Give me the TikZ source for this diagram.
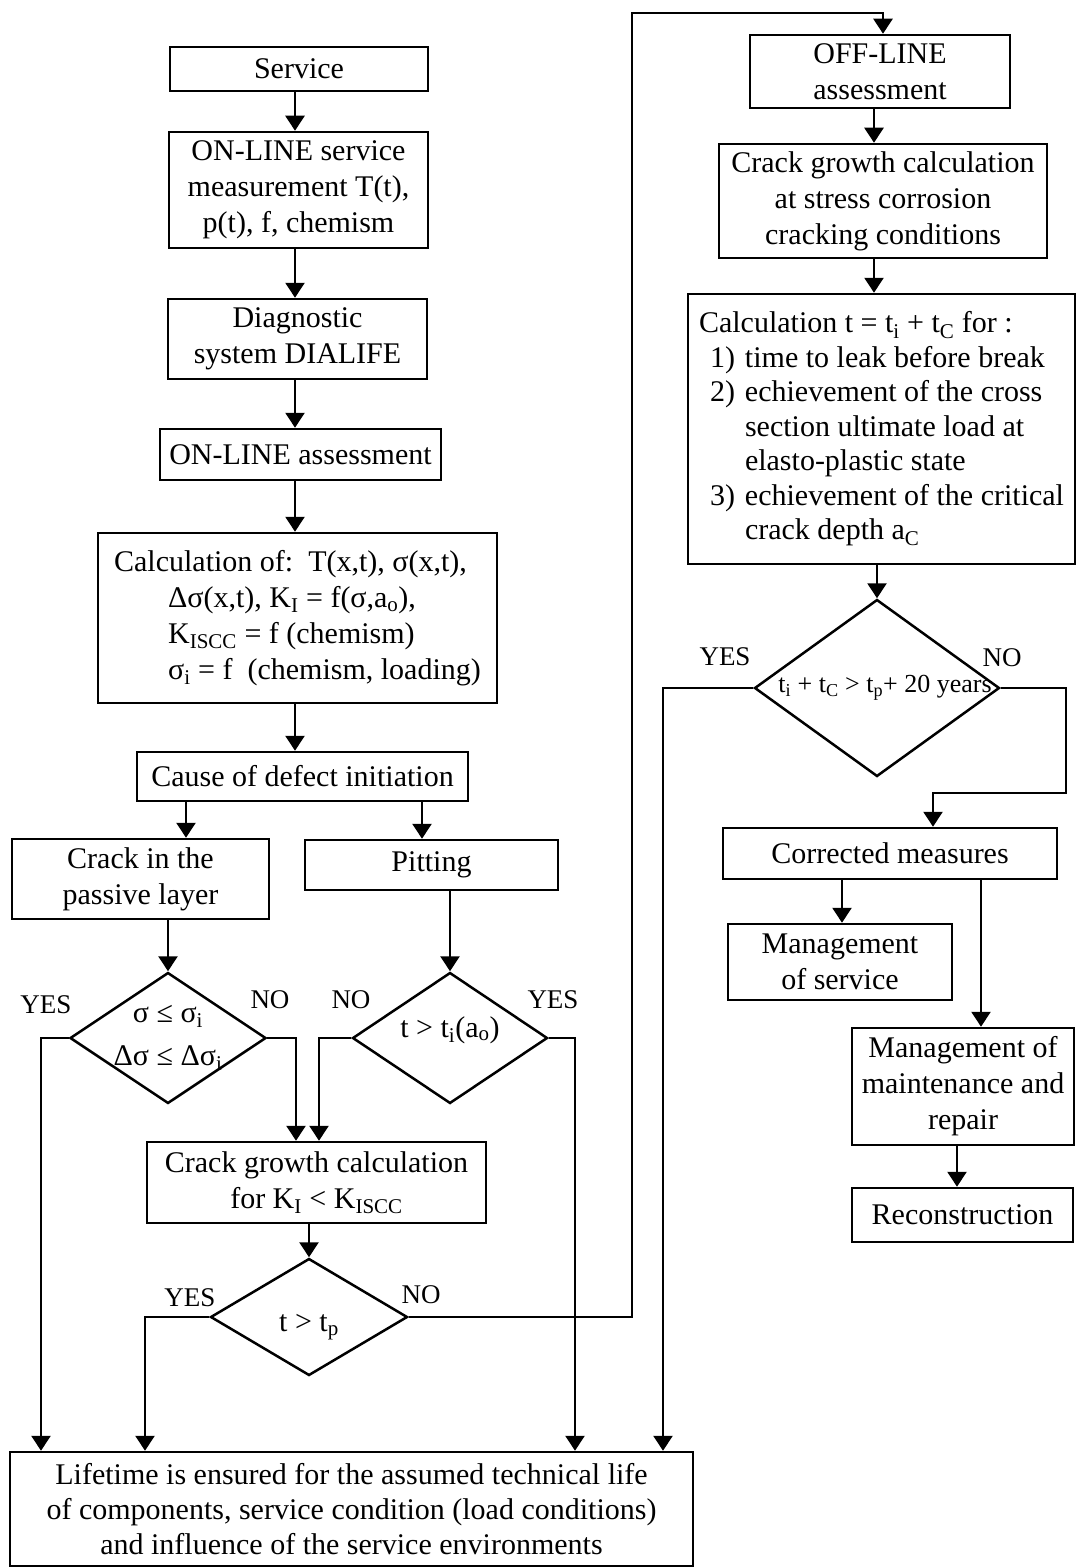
\documentclass[tikz,border=0pt]{standalone}
\usepackage{fontspec}
\setmainfont{Liberation Serif}
\usetikzlibrary{shapes.geometric,arrows.meta}
\begin{document}
\begin{tikzpicture}[x=1pt,y=-1pt,
  font=\fontsize{30}{36}\selectfont,
  box/.style={draw,line width=2.5pt,inner sep=0pt,align=center},
  dia/.style={draw,diamond,line width=2.5pt,inner sep=0pt},
  arr/.style={draw,line width=2.5pt,-{Triangle[width=19pt,length=15pt]}},
  lbl/.style={inner sep=0pt,font=\fontsize{27}{30}\selectfont}]
\useasboundingbox (0,0) rectangle (1078,1568);
% left column
\node[box,minimum width=258pt,minimum height=44pt] (svc) at (299,69) {Service};
\node[box,minimum width=259pt,minimum height=116pt] (onm) at (298.5,190) {ON-LINE service\\measurement T(t),\\p(t), f, chemism};
\node[box,minimum width=259pt,minimum height=80pt] (diag) at (297.5,339) {Diagnostic\\system DIALIFE};
\node[box,minimum width=281pt,minimum height=51pt] (ona) at (300.5,454.5) {ON-LINE assessment};
\node[box,minimum width=399pt,minimum height=170pt,align=left] (calc) at (297.5,618) {Calculation of:\ \ T(x,t), σ(x,t),\\
\hspace*{54pt}Δσ(x,t), K\textsubscript{I} = f(σ,a\textsubscript{o}),\\
\hspace*{54pt}K\textsubscript{ISCC} = f (chemism)\\
\hspace*{54pt}σ\textsubscript{i} = f\ \ (chemism, loading)};
\node[box,minimum width=331pt,minimum height=49pt] (cause) at (302.5,776.5) {Cause of defect initiation};
\node[box,minimum width=257pt,minimum height=80pt] (cp) at (140.5,879) {Crack in the\\passive layer};
\node[box,minimum width=253pt,minimum height=50pt] (pit) at (431.5,865) {Pitting};
\node[dia,minimum width=196pt,minimum height=131pt,label={[align=center,font=\fontsize{30}{43}\selectfont]center:{σ ≤ σ\textsubscript{i}\\Δσ ≤ Δσ\textsubscript{i}}}] (d1) at (168,1038) {};
\node[dia,minimum width=195pt,minimum height=131pt,label={[yshift=8pt]center:{t > t\textsubscript{i}(a\textsubscript{o})}}] (d2) at (450,1038) {};
\node[box,minimum width=339pt,minimum height=81pt] (cg) at (316.5,1182.5) {Crack growth calculation\\for K\textsubscript{I} < K\textsubscript{ISCC}};
\node[dia,minimum width=197pt,minimum height=117pt,label={[yshift=-10pt]center:{t > t\textsubscript{p}}}] (d3) at (309,1317) {};
\node[box,minimum width=683pt,minimum height=114pt,font=\fontsize{30}{35}\selectfont] (bot) at (351.5,1509) {Lifetime is ensured for the assumed technical life\\of components, service condition (load conditions)\\and influence of the service environments};
% right column
\node[box,minimum width=260pt,minimum height=73pt] (off) at (880,71.5) {OFF-LINE\\assessment};
\node[box,minimum width=328pt,minimum height=114pt] (scc) at (883,201) {Crack growth calculation\\at stress corrosion\\cracking conditions};
\node[box,minimum width=387pt,minimum height=270pt,align=left,font=\fontsize{30}{34.5}\selectfont] (ct) at (881.5,429) {Calculation t = t\textsubscript{i} + t\textsubscript{C} for :\\
\hspace*{11pt}\makebox[35pt][l]{1)}time to leak before break\\
\hspace*{11pt}\makebox[35pt][l]{2)}echievement of the cross\\
\hspace*{46pt}section ultimate load at\\
\hspace*{46pt}elasto-plastic state\\
\hspace*{11pt}\makebox[35pt][l]{3)}echievement of the critical\\
\hspace*{46pt}crack depth a\textsubscript{C}};
\node[dia,minimum width=245pt,minimum height=177pt,label={[xshift=8pt,font=\fontsize{26}{30}\selectfont]center:{t\textsubscript{i} + t\textsubscript{C} > t\textsubscript{p}+ 20 years}}] (d4) at (877,688) {};
\node[box,minimum width=334pt,minimum height=51pt] (corr) at (890,853.5) {Corrected measures};
\node[box,minimum width=224pt,minimum height=76pt] (ms) at (840,962) {Management\\of service};
\node[box,minimum width=222pt,minimum height=117pt] (mm) at (963,1086.5) {Management of\\maintenance and\\repair};
\node[box,minimum width=221pt,minimum height=54pt] (rec) at (962.5,1215) {Reconstruction};
% labels
\node[lbl] (y1) at (46,1005) {YES};
\node[lbl] (n1) at (270,1000) {NO};
\node[lbl] (n2) at (351,1000) {NO};
\node[lbl] (y2) at (553,1000) {YES};
\node[lbl] (y3) at (190,1298) {YES};
\node[lbl] (n3) at (421,1295) {NO};
\node[lbl] (y4) at (725,657) {YES};
\node[lbl] (n4) at (1002,658) {NO};
% connectors left
\draw[arr] ([xshift=-4pt]svc.south) -- ([xshift=-4pt]svc.south |- onm.north);
\draw[arr] ([xshift=-3.5pt]onm.south) -- ([xshift=-3.5pt]onm.south |- diag.north);
\draw[arr] ([xshift=-2.5pt]diag.south) -- ([xshift=-2.5pt]diag.south |- ona.north);
\draw[arr] ([xshift=-5.5pt]ona.south) -- ([xshift=-5.5pt]ona.south |- calc.north);
\draw[arr] ([xshift=-2.5pt]calc.south) -- ([xshift=-2.5pt]calc.south |- cause.north);
\draw[arr] ([xshift=-116.5pt]cause.south) -- ([xshift=-116.5pt]cause.south |- cp.north);
\draw[arr] ([xshift=119.5pt]cause.south) -- ([xshift=119.5pt]cause.south |- pit.north);
\draw[arr] (cp.south -| d1.north) -- (d1.north);
\draw[arr] (pit.south -| d2.north) -- (d2.north);
\draw[arr] (d1.west) -| ([xshift=-310.5pt]bot.north);
\draw[arr] (d1.east) -| ([xshift=-20.5pt]cg.north);
\draw[arr] (d2.west) -| ([xshift=2.5pt]cg.north);
\draw[arr] (d2.east) -| ([xshift=223.5pt]bot.north);
\draw[arr] (cg.south -| d3.north) -- (d3.north);
\draw[arr] (d3.west) -| ([xshift=-206.5pt]bot.north);
\draw[arr] (d3.east) -| (632,13) -| ([xshift=3pt]off.north);
% connectors right
\draw[arr] ([xshift=-6pt]off.south) -- ([xshift=-6pt]off.south |- scc.north);
\draw[arr] ([xshift=-9pt]scc.south) -- ([xshift=-9pt]scc.south |- ct.north);
\draw[arr] (ct.south -| d4.north) -- (d4.north);
\draw[arr] (d4.west) -| ([xshift=311.5pt]bot.north);
\draw[arr] (d4.east) -| (1066,793) -| ([xshift=43pt]corr.north);
\draw[arr] ([xshift=-48pt]corr.south) -- ([xshift=-48pt]corr.south |- ms.north);
\draw[arr] ([xshift=91pt]corr.south) -- ([xshift=91pt]corr.south |- mm.north);
\draw[arr] ([xshift=-6pt]mm.south) -- ([xshift=-6pt]mm.south |- rec.north);
\end{tikzpicture}
\end{document}
